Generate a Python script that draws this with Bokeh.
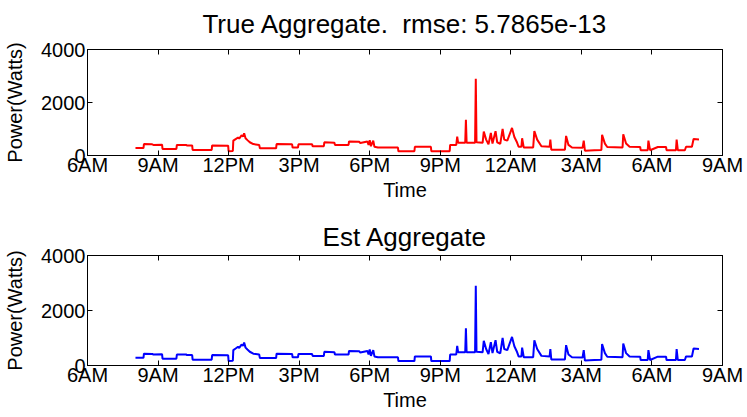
from bokeh.plotting import figure
from bokeh.models import FixedTicker, LinearAxis, Range1d, CustomLabelingPolicy
from bokeh.layouts import column
from bokeh.embed import file_html
from bokeh.resources import INLINE

# time in hours since midnight of day 1 (24 = 12AM next day)
hours = [
    8.04, 8.38, 8.40, 8.75, 8.80, 9.17, 9.19, 9.78, 9.80, 10.20, 10.22, 10.45, 10.47,
    11.28, 11.30, 11.98, 12.00, 12.18, 12.20, 12.30, 12.40, 12.45, 12.55, 12.62, 12.66,
    12.72, 12.80, 12.90, 13.05, 13.30, 13.33, 14.02, 14.04, 14.70, 14.72, 14.95, 14.97,
    15.55, 15.57, 16.05, 16.07, 16.50, 16.52, 17.10, 17.12, 17.55, 17.60, 17.75, 17.90,
    17.95, 18.00, 18.05, 18.15, 18.20, 18.35, 19.20, 19.22, 19.90, 19.92, 20.60, 20.62,
    21.40, 21.42, 21.68, 21.72, 21.76, 22.06, 22.09, 22.12, 22.48, 22.51, 22.54, 22.80,
    22.85, 22.95, 23.05, 23.15, 23.22, 23.35, 23.42, 23.55, 23.65, 23.72, 23.85, 24.05,
    24.15, 24.25, 24.33, 24.45, 24.48, 24.55, 24.95, 25.00, 25.12, 25.30, 25.65, 25.68,
    25.72, 26.30, 26.35, 26.45, 26.60, 27.05, 27.10, 27.15, 27.55, 27.85, 27.88, 28.00,
    28.10, 28.75, 28.78, 28.90, 29.05, 29.50, 29.52, 29.82, 29.85, 29.92, 30.25, 30.60,
    30.62, 31.02, 31.05, 31.10, 31.40, 31.45, 31.70, 31.77, 32.00,
]

true_watts = [
    280, 280, 430, 420, 400, 410, 250, 250, 400, 400, 380, 380, 210,
    210, 380, 370, 160, 170, 560, 620, 680, 640, 760, 720, 840,
    650, 580, 500, 430, 400, 270, 270, 430, 420, 300, 300, 420,
    420, 350, 350, 500, 480, 400, 400, 530, 520, 470, 500, 530,
    400, 580, 350, 560, 330, 300, 300, 160, 160, 330, 330, 160,
    160, 400, 400, 710, 480, 480, 1350, 480, 480, 2900, 500, 480,
    900, 600, 420, 850, 450, 920, 500, 440, 1000, 600, 560, 1040,
    700, 520, 330, 330, 650, 300, 300, 920, 600, 350, 330, 600,
    220, 220, 740, 400, 300, 290, 560, 180, 200, 210, 780, 450,
    320, 300, 800, 450, 330, 320, 200, 200, 560, 200, 320, 320,
    200, 200, 600, 200, 200, 330, 330, 620, 600,
]

est_watts = [
    280, 280, 430, 420, 400, 410, 250, 250, 400, 400, 380, 380, 210,
    210, 380, 370, 160, 170, 560, 620, 680, 640, 760, 720, 840,
    650, 580, 500, 430, 400, 270, 270, 430, 420, 300, 300, 420,
    420, 350, 350, 500, 480, 400, 400, 530, 520, 470, 500, 530,
    400, 580, 350, 560, 330, 300, 300, 160, 160, 330, 330, 160,
    160, 400, 400, 710, 480, 480, 1350, 480, 480, 2900, 500, 480,
    900, 600, 420, 850, 450, 920, 500, 440, 1000, 600, 560, 1040,
    700, 520, 330, 330, 650, 300, 300, 920, 600, 350, 330, 600,
    220, 220, 740, 400, 300, 290, 560, 180, 200, 210, 780, 450,
    320, 300, 800, 450, 330, 320, 200, 200, 560, 200, 320, 320,
    200, 200, 600, 200, 200, 330, 330, 620, 600,
]

x_ticks = [6, 9, 12, 15, 18, 21, 24, 27, 30, 33]
x_tick_labels = ["6AM", "9AM", "12PM", "3PM", "6PM", "9PM", "12AM", "3AM", "6AM", "9AM"]
y_ticks = [0, 2000, 4000]

FONT = "Liberation Sans"

HIDE_ALL = """
for (const i of Array.from(indices)) {
    indices.set(i, false)
}
return indices
"""


def style_axis(ax, ticks, show_labels=True):
    ax.ticker = FixedTicker(ticks=ticks)
    ax.minor_tick_line_color = None
    ax.major_tick_in = 5
    ax.major_tick_out = 0
    ax.axis_line_color = "black"
    ax.major_tick_line_color = "black"
    ax.major_label_text_font = FONT
    ax.major_label_text_color = "black"
    ax.axis_label_text_font = FONT
    ax.axis_label_text_font_style = "normal"
    ax.axis_label_text_color = "black"
    if show_labels:
        ax.major_label_text_font_size = "20px"
        ax.axis_label_text_font_size = "20px"
    else:
        ax.major_label_policy = CustomLabelingPolicy(code=HIDE_ALL)
        ax.major_label_text_font_size = "0px"
        ax.major_label_standoff = 0


def make_fig(title, color, ys, height, border_top, border_bottom, title_standoff,
             title_valign, label_standoff, axis_label_standoff):
    p = figure(width=747, height=height, x_range=Range1d(6, 33), y_range=Range1d(0, 4000),
               output_backend="svg", toolbar_location=None, title=title)
    p.min_border_left = 87
    p.min_border_right = 25
    p.min_border_top = border_top
    p.min_border_bottom = border_bottom
    p.title.text_font = FONT
    p.title.text_font_size = "26px"
    p.title.text_font_style = "normal"
    p.title.align = "center"
    p.title.vertical_align = title_valign
    p.title.standoff = title_standoff
    p.title.text_color = "black"
    p.xgrid.visible = False
    p.ygrid.visible = False
    p.outline_line_color = "black"
    p.outline_line_width = 1
    p.background_fill_color = "white"
    p.border_fill_color = "white"

    p.line(hours, ys, line_color=color, line_width=2)

    xa = p.xaxis[0]
    style_axis(xa, x_ticks)
    xa.major_label_overrides = {t: l for t, l in zip(x_ticks, x_tick_labels)}
    xa.axis_label = "Time"
    xa.major_label_standoff = label_standoff
    xa.axis_label_standoff = axis_label_standoff

    ya = p.yaxis[0]
    style_axis(ya, y_ticks)
    ya.axis_label = "Power(Watts)"
    ya.major_label_standoff = 2
    ya.axis_label_standoff = 12

    top_ax = LinearAxis()
    style_axis(top_ax, x_ticks, show_labels=False)
    p.add_layout(top_ax, "above")
    right_ax = LinearAxis()
    style_axis(right_ax, y_ticks, show_labels=False)
    p.add_layout(right_ax, "right")
    return p


p1 = make_fig("True Aggregate.\u00a0 rmse: 5.7865e-13", "#ff0000", true_watts,
              208, 47, 53, 17, "top", -2, 0)
p2 = make_fig("Est Aggregate", "#0000ff", est_watts,
              208, 47, 51, 7, "bottom", -2, 0)

layout = column(p1, p2)
open("out.html", "w").write(file_html(layout, INLINE))
